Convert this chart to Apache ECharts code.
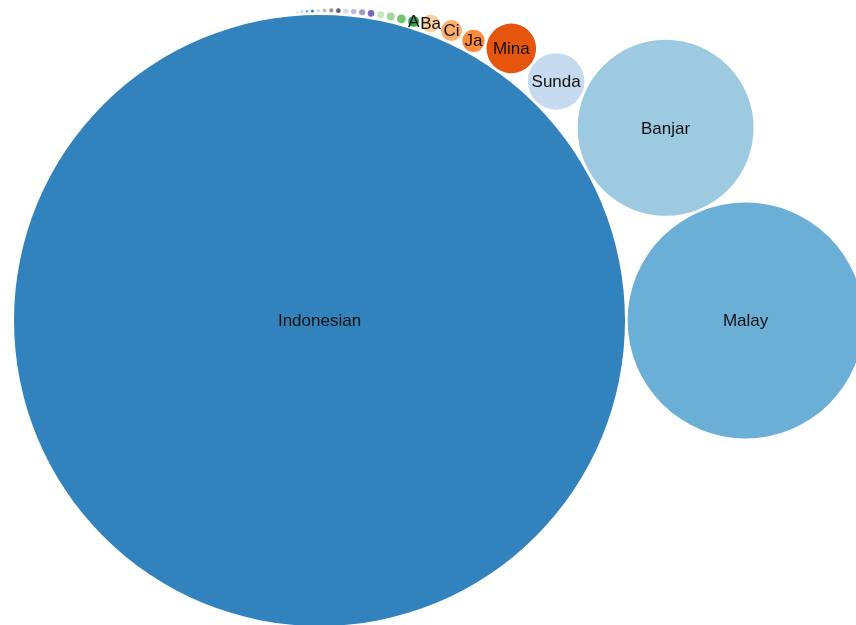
<!DOCTYPE html>
<html>
<head>
<meta charset="utf-8">
<script src="https://cdn.jsdelivr.net/npm/echarts@6/dist/echarts.min.js"></script>
<style>
html,body{margin:0;padding:0;background:#fff;}
#chart{width:856px;height:625px;}
</style>
</head>
<body>
<div id="chart"></div>
<script>
// ---- data ----
const labels = ['Indonesian','Malay','Banjar','Sunda','Mina','Ja','Ci','Ba','A',
  '','','','','','','','','','','','','','',''];
const values = [93330, 13924, 7744, 800, 615, 125, 110, 81, 30,
  19.4, 16, 13.3, 11.2, 9.3, 7.6, 6.5, 5.5, 4.6, 3.8, 3.1, 2.4, 1.8, 1.3, 0.9];
const palette = ['#3182bd','#6baed6','#9ecae1','#c6dbef','#e6550d','#fd8d3c','#fdae6b','#fdd0a2',
  '#31a354','#74c476','#a1d99b','#c7e9c0','#756bb1','#9e9ac8','#bcbddc','#dadaeb',
  '#636363','#969696','#bdbdbd','#d9d9d9'];

// ---- circle packing (front-chain, d3 v3 style) ----
const pad = 1.3;
function packSiblings(nodes){
  const n = nodes.length;
  nodes.forEach(d => { d.next = d.prev = d; });
  let xMin=Infinity,xMax=-Infinity,yMin=Infinity,yMax=-Infinity;
  function bound(d){
    xMin=Math.min(d.x-d.r,xMin); xMax=Math.max(d.x+d.r,xMax);
    yMin=Math.min(d.y-d.r,yMin); yMax=Math.max(d.y+d.r,yMax);
  }
  function place(a,b,c){
    let db=a.r+c.r, dx=b.x-a.x, dy=b.y-a.y;
    if(db && (dx||dy)){
      let da=b.r+c.r, dc=dx*dx+dy*dy;
      da*=da; db*=db;
      const x=.5+(db-da)/(2*dc);
      const y=Math.sqrt(Math.max(0,2*da*(db+dc)-(db-=dc)*db-da*da))/(2*dc);
      c.x=a.x+x*dx+y*dy; c.y=a.y+x*dy-y*dx;
    } else { c.x=a.x+db; c.y=a.y; }
  }
  function insert(a,b){ const c=a.next; a.next=b; b.prev=a; b.next=c; c.prev=b; }
  function splice(a,b){ a.next=b; b.prev=a; }
  function isect(a,b){ const dx=b.x-a.x, dy=b.y-a.y, dr=a.r+b.r; return .999*dr*dr>dx*dx+dy*dy; }
  let a=nodes[0], b, c, i, j, k;
  a.x=-a.r; a.y=0; bound(a);
  if(n>1){
    b=nodes[1]; b.x=b.r; b.y=0; bound(b);
    if(n>2){
      c=nodes[2]; place(a,b,c); bound(c);
      insert(a,c); a.prev=c; insert(c,b); b=a.next;
      for(i=3;i<n;i++){
        place(a,b,c=nodes[i]);
        let hit=0,s1=1,s2=1;
        for(j=b.next;j!==b;j=j.next,s1++){ if(isect(j,c)){hit=1;break;} }
        if(hit===1){
          for(k=a.prev;k!==j.prev;k=k.prev,s2++){ if(isect(k,c)) break; }
        }
        if(hit){
          if(s1<s2||(s1===s2&&b.r<a.r)) splice(a,b=j); else splice(a=k,b);
          i--;
        } else { insert(a,c); b=c; bound(c); }
      }
    }
  }
  const cx=(xMin+xMax)/2, cy=(yMin+yMax)/2;
  nodes.forEach(d=>{ d.x-=cx; d.y-=cy; });
}
const nodes = values.map(v => ({r: Math.sqrt(v) + pad}));
packSiblings(nodes);
nodes.forEach(d => { d.r -= pad; });

// view: place the largest circle at its spot in the frame
const anchorX = 319.5, anchorY = 320.5, W = 856, H = 625;
const x0 = nodes[0].x - anchorX, y0 = nodes[0].y - anchorY;

const seriesData = nodes.map((d,i) => [d.x, d.y, d.r, i]);

const chart = echarts.init(document.getElementById('chart'), null, {renderer:'canvas'});
chart.setOption({
  animation:false,
  grid:{left:0,right:0,top:0,bottom:0},
  xAxis:{type:'value',min:x0,max:x0+W,show:false},
  yAxis:{type:'value',min:y0,max:y0+H,inverse:true,show:false},
  series:[{
    type:'custom',
    clip:false,
    data: seriesData,
    renderItem:function(params, api){
      const idx = params.dataIndex;
      const p = api.coord([api.value(0), api.value(1)]);
      const r = api.size([api.value(2), api.value(2)])[0];
      const children = [{
        type:'circle',
        shape:{cx:p[0], cy:p[1], r:r},
        style:{fill: palette[idx % palette.length]}
      }];
      if(labels[idx]){
        children.push({
          type:'text',
          style:{text:labels[idx], x:p[0], y:p[1]+1, align:'center', verticalAlign:'middle',
            fontSize:17, fontFamily:'Liberation Sans, Arial, sans-serif', fill:'#111'}
        });
      }
      return {type:'group', children:children};
    }
  }]
});
</script>
</body>
</html>
